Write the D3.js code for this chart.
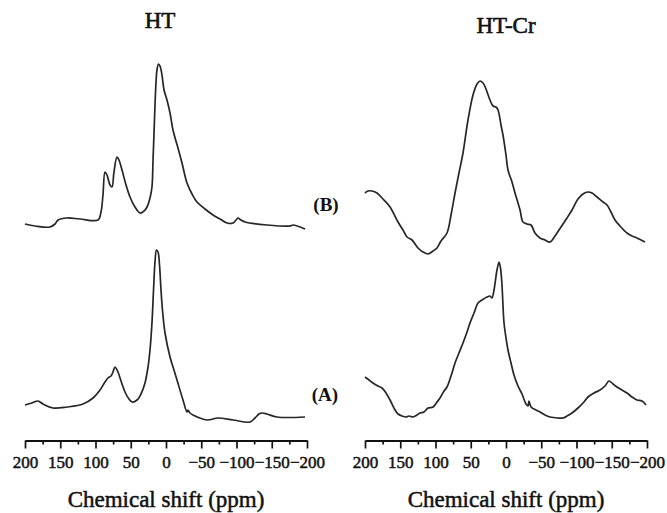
<!DOCTYPE html>
<html>
<head>
<meta charset="utf-8">
<script src="https://cdn.jsdelivr.net/npm/d3@7"></script>
<style>
  html, body { margin: 0; padding: 0; background: #fff; }
  svg { display: block; }
  text { font-family: "Liberation Serif", "Times New Roman", serif; fill: #111; }
</style>
</head>
<body>
<svg id="chart" width="667" height="513"></svg>
<script>
// ---------- data (chemical shift in ppm, intensity in arbitrary units) ----------
const panelTitles = ["HT", "HT-Cr"];
const traceLabels = ["(A)", "(B)"];
const axisTitle = "Chemical shift (ppm)";
const majorTicks = [200, 150, 100, 50, 0, -50, -100, -150, -200];
const minorTicks = [175, 125, 75, 25, -25, -75, -125, -175];

const htA_ppm = [200,190.1,181.6,174.5,160.3,140.4,117.7,103.5,93.6,86.5,82.3,78,75.2,72.3,68.1,63.8,58.2,52.5,48.2,41.1,35.5,29.8,25.5,22.7,19.9,17.7,15.6,13.5,11.3,9.2,7.1,5,1.4,-5.7,-11.3,-15.6,-24.1,-29.8,-31.2,-34,-38.3,-58.2,-73.8,-95,-119.1,-126.2,-131.9,-136.2,-143.3,-157.4,-197.2];
const htA_int = [20,22,24,21,17,18,21,27,35,43,47,49,53,58,53,44,33,26,23,25,31,42,58,75,102,135,163,175,173,160,135,115,92,68,55,45,25,13,15,12,10,5,7,5,3,7,11,12,11,8,8];

const htB_ppm = [200,185.8,164.5,157.4,153.2,140.4,122,96.5,92.2,89.4,86.5,83.7,79.4,76.6,73.8,69.5,66.7,62.4,56.7,51.1,44,36.9,31.2,26.9,22.7,19.9,18.4,17,15.6,14.2,12.8,10.6,8.5,5.7,2.8,-1.4,-5.7,-9.9,-17,-22.7,-27,-29.8,-36.9,-44,-55.3,-66.7,-76.6,-86.5,-95,-99.3,-102.1,-106.4,-112.1,-143.3,-175.9,-180.1,-197.2];
const htB_int = [8,6,5,8,12,14,13,12,20,37,60,57,47,45,60,75,72,62,47,35,25,19,21,25,34,45,72,99,127,149,162,168,166,157,142,132,119,102,84,69,56,49,38,30,23,17,13,9,9,12,14,12,10,7,6,7,3];

const crA_ppm = [200,194.3,188.7,181.6,175.9,170.2,164.5,157.4,153.2,147.5,141.8,137.6,131.9,126.2,122,116.3,110.6,103.5,97.9,93.6,87.9,83.7,78,72.3,66.7,61,55.3,51.1,45.4,39.7,34,26.9,22.7,19.9,17,14.9,12.8,9.9,7.8,5.7,4.3,2.8,0,-2.8,-7.1,-11.3,-17,-22.7,-28.4,-31.2,-32.6,-35.5,-42.6,-48.2,-55.3,-62.4,-73.8,-80.9,-86.5,-93.6,-102.1,-110.6,-116.3,-124.8,-133.3,-140.4,-146.1,-151.8,-157.4,-164.5,-171.6,-178.7,-185.8,-192.9,-198.6];
const crA_int = [43,40,37,34,32,27,20,10,6,4,3,4,3,5,7,8,12,13,18,22,29,33,44,57,67,77,88,97,107,117,120,123,124,122,130,140,150,158,152,135,115,97,82,70,57,45,34,26,16,14,19,13,10,8,5,3,2,2,4,7,12,18,23,27,30,34,39,36,33,30,27,23,20,19,15];

const crB_ppm = [200,195.7,190.1,183,174.5,164.5,153.2,146.1,140.4,133.3,124.8,117.7,110.6,103.5,97.9,92.2,83.7,78,72.3,66.7,61,53.9,46.8,41.1,36.9,32.6,28.4,22.7,18.4,14.2,11.3,7.1,4.3,0,-2.8,-8.5,-12.8,-19.9,-24.1,-29.8,-35.5,-41.1,-48.2,-55.3,-62.4,-69.5,-75.2,-80.9,-86.5,-93.6,-102.1,-109.2,-116.3,-122,-129.1,-137.6,-143.3,-148.9,-154.6,-161.7,-171.6,-178.7,-185.8,-197.2];
const crB_int = [65,67,67,65,59,51,36,28,21,18,10,6,4,7,10,17,25,43,65,85,105,138,163,174,177,175,169,158,152,151,148,133,123,103,88,76,65,48,36,34,33,25,20,18,16,22,28,34,40,48,59,64,66,65,61,56,53,46,38,32,25,22,20,16];

// ---------- layout ----------
const svg = d3.select("#chart");
const panels = [
  { title: panelTitles[0], x0: 25, x1: 307, titleX: 160, titleY: 28,
    traces: [ { ppm: htA_ppm, val: htA_int, offset: 5 },
              { ppm: htB_ppm, val: htB_int, offset: 198 } ] },
  { title: panelTitles[1], x0: 365, x1: 647, titleX: 506, titleY: 33,
    traces: [ { ppm: crA_ppm, val: crA_int, offset: 10 },
              { ppm: crB_ppm, val: crB_int, offset: 172 } ] }
];
const axisY = 440.5;
const yScale = d3.scaleLinear().domain([0, 430]).range([430, 0]);
const ink = "#111";

function thicken(sel, w) {
  sel.attr("stroke", ink).attr("stroke-width", w).attr("paint-order", "stroke");
}

panels.forEach(p => {
  const x = d3.scaleLinear().domain([200, -200]).range([p.x0, p.x1]);
  const g = svg.append("g");

  // traces
  p.traces.forEach(t => {
    const pts = t.ppm.map((d, i) => [d, t.val[i] + t.offset]);
    g.append("path")
      .datum(pts)
      .attr("fill", "none")
      .attr("stroke", "#262626")
      .attr("stroke-width", 1.7)
      .attr("stroke-linejoin", "round")
      .attr("d", d3.line()
        .x(d => x(d[0]))
        .y(d => yScale(d[1]))
        .curve(d3.curveCatmullRom.alpha(0.5)));
  });

  // minor ticks
  const minorAxis = d3.axisBottom(x).tickValues(minorTicks).tickSize(4).tickFormat("");
  const gm = g.append("g").attr("transform", `translate(0,${axisY})`).call(minorAxis);
  gm.select(".domain").remove();
  gm.selectAll("line").attr("stroke", ink).attr("stroke-width", 1.7);

  // major axis
  const axis = d3.axisBottom(x).tickValues(majorTicks).tickSize(8).tickSizeOuter(0)
    .tickPadding(7).tickFormat(d => d < 0 ? "\u2212" + Math.abs(d) : String(d));
  const ga = g.append("g").attr("transform", `translate(0,${axisY})`).call(axis);
  ga.select(".domain").attr("stroke", ink).attr("stroke-width", 2);
  ga.selectAll(".tick line").attr("stroke", ink).attr("stroke-width", 1.7);
  ga.selectAll("text")
    .style("font-family", '"Liberation Serif", "Times New Roman", serif')
    .style("font-size", "17px")
    .attr("fill", ink)
    .call(thicken, 0.5);

  // axis title
  g.append("text")
    .attr("x", (p.x0 + p.x1) / 2)
    .attr("y", 507)
    .attr("text-anchor", "middle")
    .style("font-size", "23px")
    .text(axisTitle)
    .call(thicken, 0.5);

  // panel title
  g.append("text")
    .attr("x", p.titleX)
    .attr("y", p.titleY)
    .attr("text-anchor", "middle")
    .style("font-size", "23px")
    .text(p.title)
    .call(thicken, 0.6);
});

// trace labels (between the panels)
svg.append("text").attr("x", 325).attr("y", 401).attr("text-anchor", "middle")
  .style("font-size", "19px").style("font-weight", "bold").text(traceLabels[0]);
svg.append("text").attr("x", 326).attr("y", 211).attr("text-anchor", "middle")
  .style("font-size", "19px").style("font-weight", "bold").text(traceLabels[1]);
</script>
</body>
</html>
